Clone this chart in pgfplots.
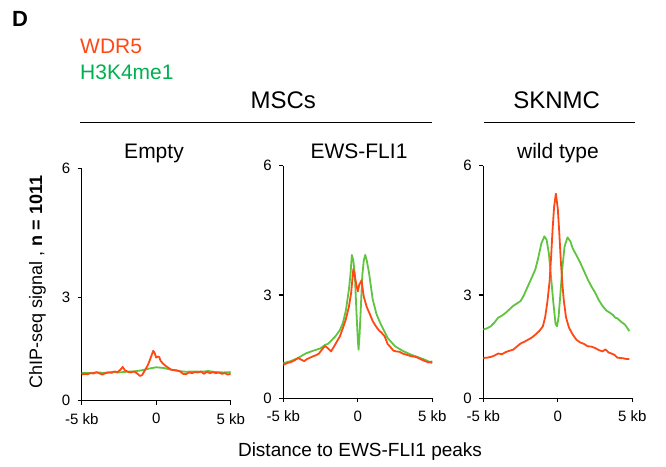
\documentclass[border=0pt]{standalone}
\usepackage{fontspec}
\setmainfont{Liberation Sans}
\usepackage{pgfplots}
\pgfplotsset{compat=1.18}

\definecolor{wdr}{RGB}{255,72,20}
\definecolor{mone}{RGB}{96,196,64}
\definecolor{monetext}{RGB}{0,176,80}

\pgfplotsset{
  panel/.style={
    scale only axis, width=149pt, height=232.6pt,
    xmin=-5, xmax=5, ymin=0, ymax=6.75,
    axis x line*=bottom, axis y line*=left,
    axis line style={line width=1.3pt, -},
    xtick={-5,0,5}, xticklabels={-5 kb,0,5 kb},
    ytick={0,3,6.75}, yticklabels={0,3,6},
    tick align=outside, major tick length=4pt,
    tick style={line width=1.2pt, black},
    tick label style={font=\fontsize{15}{16}\selectfont},
    x tick label style={yshift=-5pt},
    y tick label style={xshift=-4pt},
    every axis plot/.append style={line width=1.8pt, line join=round},
  }
}

\begin{document}
\begin{tikzpicture}
\path[use as bounding box] (0,0) rectangle (666pt,466pt);

% panel 1: MSCs, Empty
\begin{axis}[panel, at={(81.7pt,65.3pt)}, anchor=south west]
\addplot[mone] coordinates {(-5,0.80)(-4.5,0.80)(-4,0.82)(-3.5,0.81)(-3,0.83)(-2.5,0.82)(-2,0.84)(-1.5,0.85)(-1,0.88)(-0.5,0.93)(0,0.97)(0.5,0.95)(1,0.90)(1.5,0.86)(2,0.84)(2.5,0.85)(3,0.84)(3.5,0.86)(4,0.83)(4.5,0.82)(5,0.83)};
\addplot[wdr] coordinates {(-5,0.76)(-4.8,0.78)(-4.6,0.77)(-4.4,0.80)(-4.2,0.79)(-4,0.83)(-3.8,0.79)(-3.6,0.76)(-3.4,0.80)(-3.2,0.82)(-3,0.81)(-2.8,0.85)(-2.6,0.83)(-2.4,0.90)(-2.25,0.98)(-2.1,0.88)(-1.9,0.84)(-1.7,0.82)(-1.5,0.85)(-1.3,0.80)(-1.1,0.72)(-0.95,0.74)(-0.8,0.85)(-0.6,1.00)(-0.45,1.15)(-0.3,1.33)(-0.2,1.45)(-0.1,1.38)(0,1.25)(0.1,1.28)(0.2,1.27)(0.3,1.15)(0.45,1.08)(0.6,1.02)(0.8,0.96)(1,0.90)(1.2,0.89)(1.4,0.88)(1.6,0.85)(1.8,0.78)(2,0.77)(2.2,0.82)(2.4,0.80)(2.6,0.83)(2.8,0.82)(3,0.85)(3.2,0.78)(3.4,0.84)(3.6,0.80)(3.8,0.83)(4,0.80)(4.2,0.82)(4.4,0.78)(4.6,0.80)(4.8,0.76)(5,0.78)};
\end{axis}

% panel 2: MSCs, EWS-FLI1
\begin{axis}[panel, at={(283.3pt,67.7pt)}, anchor=south west]
\addplot[mone] coordinates {(-5,1.02)(-4.5,1.08)(-4,1.17)(-3.7,1.25)(-3.5,1.30)(-3,1.38)(-2.5,1.45)(-2.2,1.55)(-2,1.58)(-1.5,1.80)(-1.2,1.98)(-1,2.19)(-0.8,2.55)(-0.6,3.15)(-0.5,3.55)(-0.4,4.16)(-0.3,4.00)(-0.2,3.60)(-0.1,2.60)(0,1.70)(0.05,1.41)(0.12,1.85)(0.2,2.60)(0.3,3.55)(0.4,4.00)(0.5,4.16)(0.6,4.00)(0.75,3.65)(1,2.87)(1.25,2.45)(1.5,2.19)(2,1.75)(2.5,1.51)(3,1.38)(3.2,1.34)(3.5,1.28)(4,1.20)(4.5,1.12)(5,1.02)};
\addplot[wdr] coordinates {(-5,0.97)(-4.75,1.02)(-4.5,1.05)(-4.25,1.10)(-4,1.17)(-3.8,1.12)(-3.6,1.08)(-3.4,1.14)(-3.2,1.18)(-3,1.22)(-2.8,1.25)(-2.6,1.30)(-2.4,1.42)(-2.2,1.52)(-2,1.45)(-1.8,1.36)(-1.6,1.50)(-1.4,1.65)(-1.2,1.80)(-1,2.04)(-0.8,2.30)(-0.6,2.65)(-0.45,3.05)(-0.3,3.75)(-0.2,3.55)(-0.1,3.30)(0,3.10)(0.1,3.30)(0.25,3.42)(0.4,2.95)(0.6,2.65)(0.8,2.45)(1,2.24)(1.2,2.10)(1.4,1.98)(1.6,1.90)(1.8,1.80)(2,1.58)(2.2,1.48)(2.4,1.38)(2.6,1.36)(2.8,1.35)(3,1.30)(3.3,1.26)(3.6,1.22)(3.9,1.20)(4.2,1.14)(4.5,1.08)(4.75,1.04)(5,1.07)};
\end{axis}

% panel 3: SKNMC, wild type
\begin{axis}[panel, at={(483.3pt,67.7pt)}, anchor=south west]
\addplot[mone] coordinates {(-5,2.00)(-4.75,2.03)(-4.5,2.09)(-4.25,2.20)(-4,2.34)(-3.75,2.40)(-3.5,2.48)(-3.25,2.58)(-3,2.68)(-2.75,2.75)(-2.5,2.82)(-2.3,2.97)(-2,3.26)(-1.75,3.50)(-1.5,3.75)(-1.3,4.10)(-1.1,4.50)(-0.9,4.70)(-0.75,4.60)(-0.6,4.20)(-0.45,3.50)(-0.3,2.78)(-0.15,2.15)(-0.05,2.09)(0.05,2.35)(0.15,2.90)(0.3,3.75)(0.45,4.40)(0.65,4.67)(0.85,4.55)(1,4.35)(1.25,4.15)(1.5,3.94)(1.75,3.70)(2,3.46)(2.25,3.25)(2.5,3.07)(2.75,2.85)(3,2.68)(3.25,2.55)(3.5,2.48)(3.7,2.42)(3.85,2.34)(4,2.32)(4.25,2.22)(4.5,2.14)(4.65,2.05)(4.8,1.95)};
\addplot[wdr] coordinates {(-5,1.17)(-4.75,1.18)(-4.5,1.20)(-4.25,1.24)(-4,1.30)(-3.75,1.28)(-3.5,1.34)(-3.25,1.38)(-3,1.41)(-2.75,1.50)(-2.5,1.59)(-2.25,1.64)(-2,1.70)(-1.75,1.76)(-1.5,1.85)(-1.25,1.95)(-1,2.09)(-0.85,2.35)(-0.7,2.80)(-0.55,3.40)(-0.45,4.10)(-0.35,4.90)(-0.25,5.55)(-0.13,5.94)(0,5.50)(0.1,4.80)(0.2,4.00)(0.3,3.35)(0.4,2.85)(0.55,2.35)(0.75,2.05)(1,1.85)(1.25,1.70)(1.5,1.62)(1.75,1.58)(2,1.51)(2.25,1.50)(2.5,1.46)(2.75,1.40)(3,1.36)(3.2,1.42)(3.4,1.33)(3.6,1.30)(3.8,1.26)(4,1.18)(4.2,1.17)(4.4,1.16)(4.6,1.14)(4.8,1.14)};
\end{axis}

% labels and headers
\node[anchor=base west, font=\bfseries\fontsize{22}{24}\selectfont, inner sep=0pt] at (12pt,439pt) {D};
\node[anchor=base west, font=\fontsize{21}{23}\selectfont, text=wdr, inner sep=0pt] at (80pt,412pt) {WDR5};
\node[anchor=base west, font=\fontsize{21}{23}\selectfont, text=monetext, inner sep=0pt] at (80pt,386pt) {H3K4me1};
\node[anchor=base, font=\fontsize{24}{26}\selectfont, inner sep=0pt] at (283.3pt,357.7pt) {MSCs};
\node[anchor=base, font=\fontsize{24}{26}\selectfont, inner sep=0pt] at (556.7pt,357.7pt) {SKNMC};
\draw[line width=1.5pt] (80pt,343.3pt) -- (431.7pt,343.3pt);
\draw[line width=1.5pt] (484pt,343.3pt) -- (635pt,343.3pt);
\node[anchor=base, font=\fontsize{21}{23}\selectfont, inner sep=0pt] at (154pt,307.5pt) {Empty};
\node[anchor=base, font=\fontsize{21}{23}\selectfont, inner sep=0pt] at (359pt,307pt) {EWS-FLI1};
\node[anchor=base, font=\fontsize{21}{23}\selectfont, inner sep=0pt] at (558pt,307.5pt) {wild type};
\node[anchor=base, font=\fontsize{19}{21}\selectfont, inner sep=0pt] at (360pt,9.3pt) {Distance to EWS-FLI1 peaks};
\node[anchor=base, rotate=90, font=\fontsize{18}{20}\selectfont, inner sep=0pt] at (42pt,184pt) {ChIP-seq signal , \textbf{n = 1011}};
\end{tikzpicture}
\end{document}
